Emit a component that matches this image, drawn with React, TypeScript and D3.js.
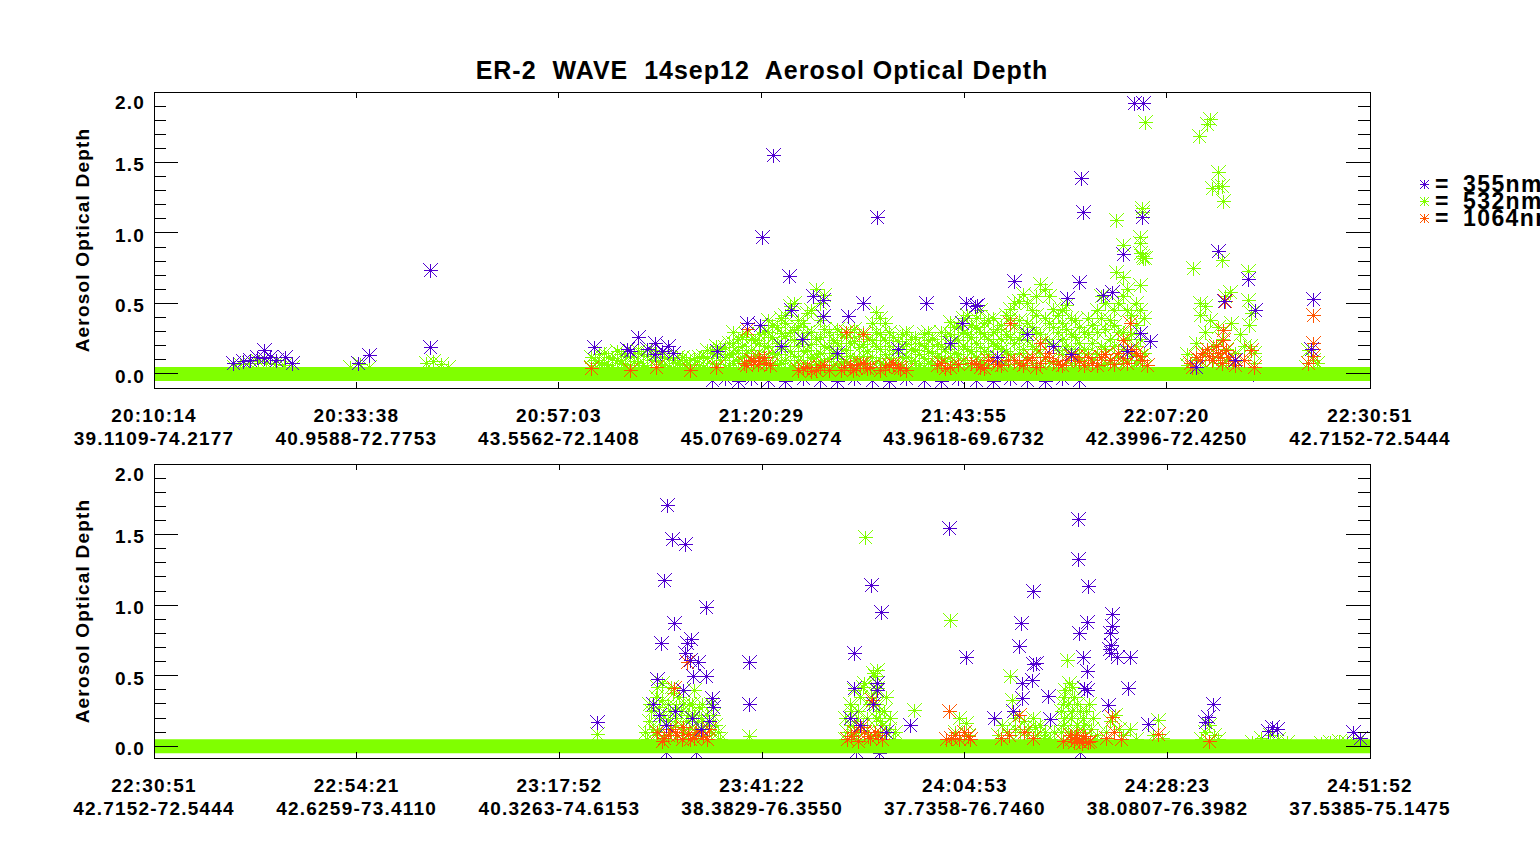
import * as d3 from "d3";

const chartTitle = "ER-2  WAVE  14sep12  Aerosol Optical Depth";
const yTitle = "Aerosol Optical Depth";

const topTimes = ["20:10:14", "20:33:38", "20:57:03", "21:20:29", "21:43:55", "22:07:20", "22:30:51"];
const topCoords = [
  "39.1109-74.2177", "40.9588-72.7753", "43.5562-72.1408", "45.0769-69.0274",
  "43.9618-69.6732", "42.3996-72.4250", "42.7152-72.5444",
];
const bottomTimes = ["22:30:51", "22:54:21", "23:17:52", "23:41:22", "24:04:53", "24:28:23", "24:51:52"];
const bottomCoords = [
  "42.7152-72.5444", "42.6259-73.4110", "40.3263-74.6153", "38.3829-76.3550",
  "37.7358-76.7460", "38.0807-76.3982", "37.5385-75.1475",
];

const wavelengths = ["355nm", "532nm", "1064nm"];
const colors = ["#5000d0", "#80ff00", "#ff5500"];

// each row: [minutes after 20:10:14, one or more AOD readings at that time]
const aod355: number[][] = [
  [9.1, 0.08], [10.3, 0.09], [11.1, 0.1], [11.9, 0.12], [12.7, 0.17, 0.11], [13.4, 0.12], [14.1, 0.1],
  [15.2, 0.12], [16.0, 0.08], [23.6, 0.08], [24.9, 0.135], [31.9, 0.74, 0.19],
  [50.9, 0.19], [54.7, 0.18], [55.0, 0.16], [56.0, 0.26], [57.0, 0.18], [57.9, 0.22, 0.14], [58.7, 0.165],
  [59.4, 0.2], [60.0, 0.15], [64.5, -0.04], [65.1, 0.165], [66, -0.03], [67.5, -0.05], [68.6, 0.36],
  [69, -0.03], [70.1, 0.35], [70.3, 0.97], [71, -0.04], [71.6, 1.55], [72.5, 0.2], [73, -0.05],
  [73.4, 0.695], [73.7, 0.45], [74.9, 0.25], [75, -0.03], [76.2, 0.55], [77, -0.04], [77.4, 0.525, 0.41],
  [79, -0.05, 0.15], [80.3, 0.41], [81, -0.03], [82.0, 0.5], [83, -0.04], [83.6, 1.11], [85, -0.05],
  [86, 0.18], [87, -0.03], [89, -0.04], [89.3, 0.5], [91, -0.05], [92, 0.22], [93, -0.03], [93.4, 0.36],
  [93.9, 0.5], [94.9, 0.48], [95, -0.04], [95.2, 0.49], [97, -0.05], [97.5, 0.12], [99, -0.03],
  [99.5, 0.66], [101, -0.04, 0.28], [103, -0.05], [104, 0.2], [105, -0.03], [105.6, 0.54], [106, 0.14],
  [107, -0.04, 0.65], [107.2, 1.39], [107.4, 1.15], [109.7, 0.56], [110.8, 0.58], [112.1, 0.85],
  [112.5, 0.16], [113.3, 1.92], [114.0, 0.29], [114.3, 1.11], [114.4, 1.92], [115.2, 0.23], [120.5, 0.05],
  [123.0, 0.87], [123.7, 0.52], [125, 0.1], [126.5, 0.67], [127.1, 0.0], [127.3, 0.45], [133.8, 0.18],
  [134.0, 0.53],
  [192.0, 0.17], [198.5, 0.3], [199.0, 0.48], [199.2, 0.22], [199.4, 0.735], [199.8, 1.18], [200.0, 0.15, -0.04],
  [200.1, 1.71], [200.7, 1.47], [200.9, 0.87], [201.0, 0.25], [202.0, 0.4], [202.2, 1.43, 0.66],
  [202.4, 0.73], [202.8, 0.61], [202.9, 0.76], [203.0, 0.2], [203.1, 0.5], [203.5, -0.04], [203.7, 0.6],
  [204.0, 0.12], [204.6, 0.99, 0.5], [205.0, 0.18], [205.3, 0.345], [205.4, 0.28], [209.6, 0.595, 0.3],
  [221.3, 0.2], [221.8, 0.66, 0.41], [222.0, -0.03], [222.5, 0.15], [223.8, 1.14], [224.0, 0.3],
  [224.5, 0.45, 0.4], [224.7, -0.05], [224.9, 0.95], [225.5, 0.1], [228.3, 0.15], [232.8, 1.55],
  [234.8, 0.63], [238.0, 0.2], [240.2, 0.25], [240.9, 0.71], [241.2, 0.87], [241.3, 0.45, 0.34],
  [242.4, 0.47], [242.6, 1.1, 0.58], [242.9, 0.59], [244.3, 0.355], [244.5, 0.19], [247.8, 1.61, 1.325],
  [247.9, 0.805], [248.0, -0.04], [248.4, 0.63], [248.5, 0.41], [248.8, 0.88, 0.53, 0.4], [248.9, 1.135],
  [251.3, 0.29], [251.4, 0.69], [251.5, 0.8], [251.6, 0.72, 0.66], [251.7, 0.94, 0.85], [252.3, 0.63],
  [253.6, 0.41], [253.8, 0.63], [255.9, 0.155], [262.5, 0.17], [262.9, 0.21], [263.4, 0.3],
  [269.8, 0.11], [270.3, 0.135], [270.9, 0.12], [279.7, 0.1], [280.5, 0.06],
];

const aod532: number[][] = [
  [9.2, 0.05], [10.0, 0.07], [11.0, 0.08], [12.0, 0.09], [13.0, 0.08], [14.0, 0.07], [15.0, 0.06],
  [16.0, 0.05], [22.7, 0.05], [23.8, 0.07], [24.9, 0.05], [31.5, 0.08], [32.3, 0.09], [33.2, 0.07],
  [34.0, 0.05],
  [50.5, 0.05, 0.12], [51, 0.04, 0.1], [51.5, 0.08, 0.14], [52, 0.07, 0.15], [52.5, 0.06, 0.12],
  [53, 0.05, 0.11], [53.5, 0.1, 0.16], [54, 0.08, 0.14], [54.5, 0.07, 0.13], [55, 0.06, 0.12],
  [55.5, 0.09, 0.15], [56, 0.08, 0.16], [56.5, 0.06, 0.14], [57, 0.05, 0.13], [57.5, 0.1, 0.17],
  [58, 0.09, 0.15], [58.5, 0.07, 0.12], [59, 0.06, 0.12], [59.5, 0.05, 0.11], [60, 0.04, 0.1],
  [60.5, 0.08, 0.12], [61, 0.07, 0.12], [61.5, 0.06, 0.1], [62, 0.05, 0.1], [62.5, 0.07, 0.11],
  [63, 0.06, 0.12], [63.5, 0.05, 0.13], [64, 0.04, 0.11, 0.17], [64.5, 0.08, 0.15], [65, 0.07, 0.14, 0.2],
  [65.5, 0.1, 0.18], [66, 0.05, 0.12, 0.19], [66.5, 0.06, 0.14, 0.22], [67, 0.08, 0.15, 0.22, 0.3],
  [67.5, 0.09, 0.17, 0.25], [68, 0.05, 0.12, 0.2, 0.26], [68.5, 0.07, 0.15, 0.28], [69, 0.09, 0.17, 0.25],
  [69.5, 0.05, 0.13, 0.24], [70, 0.06, 0.14, 0.22, 0.28], [70.5, 0.1, 0.2, 0.3],
  [71, 0.04, 0.12, 0.2, 0.3, 0.38], [71.5, 0.06, 0.15, 0.26, 0.35], [72, 0.07, 0.14, 0.22, 0.33],
  [72.5, 0.08, 0.18, 0.29, 0.4], [73, 0.1, 0.2, 0.27, 0.36, 0.42], [73.5, 0.05, 0.16, 0.3, 0.48],
  [74, 0.06, 0.13, 0.24, 0.31, 0.5], [74.5, 0.1, 0.2, 0.33, 0.38], [75, 0.08, 0.16, 0.25, 0.36],
  [75.5, 0.07, 0.17, 0.3, 0.43], [76, 0.05, 0.12, 0.21, 0.3, 0.45], [76.5, 0.06, 0.14, 0.25, 0.6],
  [77, 0.07, 0.15, 0.26, 0.38, 0.5], [77.5, 0.09, 0.2, 0.32, 0.56], [78, 0.04, 0.11, 0.2, 0.3],
  [78.5, 0.06, 0.15, 0.24], [79, 0.07, 0.13, 0.22, 0.32], [79.5, 0.08, 0.18, 0.28], [80, 0.09, 0.17, 0.26],
  [80.5, 0.05, 0.13, 0.22, 0.3], [81, 0.04, 0.11, 0.23, 0.32], [81.5, 0.1, 0.19, 0.27],
  [82, 0.06, 0.13, 0.21, 0.3], [82.5, 0.07, 0.16, 0.25], [83, 0.05, 0.12, 0.24, 0.36],
  [83.5, 0.09, 0.2, 0.3, 0.44], [84, 0.08, 0.18, 0.28, 0.4], [84.5, 0.06, 0.14, 0.24, 0.36],
  [85, 0.04, 0.11, 0.2, 0.3], [85.5, 0.08, 0.17, 0.26], [86, 0.07, 0.15, 0.23], [86.5, 0.05, 0.12, 0.2, 0.28],
  [87, 0.04, 0.12, 0.21, 0.3], [87.5, 0.09, 0.18, 0.25], [88, 0.08, 0.17, 0.26], [88.5, 0.06, 0.14, 0.22],
  [89, 0.05, 0.11, 0.2, 0.28], [89.5, 0.08, 0.16, 0.24, 0.3], [90, 0.07, 0.15, 0.25], [90.5, 0.05, 0.13, 0.21],
  [91, 0.04, 0.11, 0.2, 0.3], [91.5, 0.09, 0.18, 0.27], [92, 0.06, 0.12, 0.2, 0.28, 0.37],
  [92.5, 0.07, 0.15, 0.24, 0.33], [93, 0.05, 0.14, 0.24, 0.34], [93.5, 0.1, 0.2, 0.3, 0.4],
  [94, 0.08, 0.18, 0.28, 0.42], [94.5, 0.06, 0.16, 0.26, 0.35], [95, 0.04, 0.12, 0.22, 0.33, 0.4],
  [95.5, 0.08, 0.19, 0.3, 0.45], [96, 0.07, 0.16, 0.28, 0.36], [96.5, 0.05, 0.14, 0.25, 0.38],
  [97, 0.05, 0.12, 0.22, 0.3, 0.4], [97.5, 0.09, 0.2, 0.32], [98, 0.08, 0.18, 0.25, 0.35],
  [98.5, 0.07, 0.16, 0.28, 0.42], [99, 0.05, 0.14, 0.26, 0.4, 0.46], [99.5, 0.1, 0.22, 0.35, 0.5],
  [100, 0.07, 0.15, 0.25, 0.38, 0.52], [100.5, 0.06, 0.18, 0.3, 0.57], [101, 0.04, 0.12, 0.24, 0.36, 0.5],
  [101.5, 0.08, 0.2, 0.33, 0.45], [102, 0.06, 0.18, 0.3, 0.42, 0.55], [102.5, 0.05, 0.15, 0.28, 0.64],
  [103, 0.04, 0.12, 0.25, 0.4, 0.6], [103.5, 0.09, 0.22, 0.36, 0.55], [104, 0.08, 0.2, 0.33, 0.46],
  [104.5, 0.07, 0.17, 0.3, 0.42], [105, 0.05, 0.14, 0.25, 0.36, 0.45], [105.5, 0.1, 0.2, 0.32, 0.49],
  [106, 0.08, 0.18, 0.28, 0.4], [106.5, 0.06, 0.15, 0.26, 0.38], [107, 0.05, 0.12, 0.22, 0.33],
  [107.5, 0.08, 0.18, 0.3], [108, 0.06, 0.15, 0.28, 0.4], [108.5, 0.1, 0.22, 0.35], [109, 0.04, 0.14, 0.3, 0.45],
  [109.5, 0.06, 0.2, 0.4, 0.55], [110, 0.07, 0.18, 0.32, 0.5], [110.5, 0.08, 0.25, 0.38],
  [111, 0.05, 0.2, 0.35, 0.45], [111.2, 1.09], [111.3, 0.72], [111.5, 0.12, 0.3, 0.5], [112.0, 0.69],
  [112.1, 0.915], [112, 0.08, 0.18, 0.3, 0.55], [112.5, 0.1, 0.25, 0.45, 0.6], [113, 0.05, 0.15, 0.28, 0.42],
  [113.5, 0.08, 0.2, 0.35, 0.5], [114.0, 0.97, 0.93, 0.86, 0.63, 0.1, 0.25, 0.45], [114.2, 1.15, 0.84],
  [114.3, 1.18], [114.4, 0.82], [114.5, 0.05, 0.15, 0.4], [114.6, 1.785, 0.82],
  [119.5, 0.06, 0.14], [120.1, 0.75], [120.5, 0.1, 0.22], [120.8, 1.69], [121.0, 0.42, 0.5],
  [121.5, 0.05, 0.15, 0.3, 0.48], [121.8, 1.77], [122.1, 1.81, 0.38], [122.3, 1.32], [122.5, 0.1, 0.2],
  [123.0, 1.43, 1.33, 0.33, 0.12], [123.5, 1.33, 0.81, 0.06, 0.25], [123.6, 1.23], [123.8, 0.55],
  [124.0, 0.1, 0.18], [124.4, 0.58], [124.6, 0.36], [125.0, 0.05, 0.15], [125.6, 0.28], [126.0, 0.1, 0.2],
  [126.5, 0.73, 0.525], [126.6, 0.35], [126.7, 0.2], [126.8, 0.43], [127.2, 0.08, 0.15],
  [133.2, 0.05], [133.5, 0.17], [134.0, 0.1], [134.5, 0.08],
  [192.0, 0.09], [197.5, 0.1], [197.8, 0.05], [198.0, 0.18, 0.3], [198.2, 0.25], [198.5, 0.12],
  [198.8, 0.08, 0.35], [199.0, 0.42], [199.2, 0.28, 0.12], [199.3, 0.2], [199.5, 0.33, 0.45],
  [199.7, 0.05, 0.22], [200.0, 0.08], [200.2, 0.18, 0.3], [200.5, 0.25], [200.6, 0.1, 0.42], [200.8, 0.38],
  [201.0, 0.15], [201.1, 0.28, 0.2], [201.2, 0.05], [201.5, 0.35], [201.7, 0.12, 0.25], [202.0, 0.1, 0.3],
  [202.3, 0.05, 0.18], [202.5, 0.22], [202.7, 0.3, 0.12], [203.0, 0.3, 0.05], [203.2, 0.22, 0.4],
  [203.5, 0.12], [203.7, 0.08, 0.18], [203.8, 0.28], [204.0, 0.2], [204.2, 0.3, 0.12], [204.5, 0.08],
  [204.8, 0.22, 0.05], [205.0, 0.15], [205.2, 0.1, 0.3], [205.5, 0.22], [205.7, 0.15], [206.0, 0.1],
  [206.2, 0.05], [209.6, 0.07],
  [220.8, 0.05, 0.2], [221.0, 0.1], [221.3, 0.15, 0.3], [221.5, 0.25], [221.8, 0.08, 0.4], [222.0, 0.18, 0.05],
  [222.3, 0.25, 0.1], [222.5, 0.35], [222.8, 0.15, 0.42], [223.0, 0.45], [223.1, 1.48], [223.3, 0.2, 0.1],
  [223.5, 0.3], [223.8, 0.35, 0.05], [224.0, 0.52], [224.2, 0.5], [224.3, 0.2, 0.3], [224.4, 0.4],
  [224.5, 0.54, 0.41, 0.05], [224.7, 0.25], [224.8, 0.1, 0.18], [225.0, 0.15], [225.3, 0.25, 0.05],
  [225.5, 0.35], [225.8, 0.12], [226.0, 0.2], [226.3, 0.05], [226.5, 0.1], [228.8, 0.255], [232.9, 0.895],
  [233.5, 0.1], [234.0, 0.2], [234.8, 0.165], [235.0, 0.08],
  [238.5, 0.08], [239.0, 0.15], [239.5, 0.1], [239.9, 0.5], [240.1, 0.33], [240.5, 0.2, 0.12], [241.0, 0.1],
  [241.5, 0.18], [241.8, 0.08], [242.0, 0.12], [242.5, 0.2], [242.8, 0.14], [243.0, 0.08], [243.4, 0.15],
  [243.8, 0.06], [244.0, 0.1], [244.5, 0.05], [245.0, 0.1],
  [245.8, 0.1, 0.25], [246.0, 0.3, 0.15], [246.2, 0.2, 0.35], [246.3, 0.4], [246.5, 0.61], [246.6, 0.1, 0.3],
  [246.7, 0.45], [247.0, 0.2], [247.1, 0.25, 0.42], [247.3, 0.35], [247.5, 0.1], [247.6, 0.15, 0.3],
  [248.0, 0.25], [248.3, 0.1, 0.2], [248.5, 0.15], [248.7, 0.05, 0.25], [249.0, 0.3], [249.3, 0.12],
  [249.5, 0.2], [249.8, 0.05], [250.0, 0.08],
  [251.0, 0.1], [251.5, 0.18], [252.1, 0.22], [252.5, 0.12], [253.0, 0.08], [253.8, 0.125], [254.5, 0.05],
  [256.5, 0.08], [257.1, 0.185], [257.5, 0.06],
  [262.0, 0.05], [262.5, 0.1], [263.0, 0.15], [263.5, 0.08], [264.0, 0.05],
  [268.0, 0.03], [269.0, 0.06], [270.0, 0.08], [271.0, 0.05], [272.0, 0.03],
  [276, 0.02], [277, 0.03], [278, 0.04], [279, 0.03], [280, 0.02],
];

const aod1064: number[][] = [
  [50.5, 0.04], [55, 0.03], [58, 0.05], [62, 0.03], [65, 0.05],
  [68.2, 0.08], [68.5, 0.06], [68.6, 0.32], [69.0, 0.1], [69.3, 0.09], [69.8, 0.07], [70.0, 0.11],
  [70.5, 0.12], [70.8, 0.08], [71.2, 0.06],
  [74.5, 0.03], [75, 0.04], [75.5, 0.05], [76, 0.02], [76.5, 0.03], [77, 0.05], [77.5, 0.06], [78, 0.03],
  [79.5, 0.03], [79.8, 0.05], [80.0, 0.3], [80.5, 0.06], [80.8, 0.03], [81.2, 0.04], [81.6, 0.07],
  [82.0, 0.08, 0.28], [82.4, 0.04], [82.8, 0.05], [84, 0.03], [84.5, 0.05], [85, 0.06], [85.5, 0.07],
  [86, 0.05], [86.3, 0.04], [87, 0.03], [90.5, 0.06], [91, 0.08], [91.5, 0.04], [92, 0.05], [93, 0.07],
  [94.5, 0.08], [95, 0.07], [95.5, 0.05], [96, 0.04], [96.5, 0.1], [97, 0.09], [97.5, 0.07], [98, 0.06],
  [98.8, 0.1], [99.0, 0.36], [99.5, 0.1], [100, 0.08], [100.5, 0.06], [101, 0.1], [101.5, 0.12],
  [102, 0.05], [102.4, 0.22], [102.5, 0.08], [103, 0.12], [103.5, 0.15], [104, 0.09], [104.5, 0.07],
  [105, 0.06], [105.5, 0.1], [106, 0.13], [106.5, 0.12], [107, 0.09], [107.5, 0.06], [108, 0.12],
  [108.5, 0.08], [109, 0.06], [109.5, 0.12], [110, 0.14], [110.5, 0.1], [111, 0.07], [111.5, 0.15],
  [112.0, 0.24, 0.11], [112.5, 0.08], [112.9, 0.36], [113, 0.18], [113.5, 0.15], [114, 0.13], [114.2, 0.1],
  [114.8, 0.06],
  [119.8, 0.08], [120, 0.05], [120.5, 0.12], [121, 0.1], [121.2, 0.15], [121.8, 0.18], [122, 0.13],
  [122.4, 0.1], [122.8, 0.2], [123.0, 0.15], [123.3, 0.12], [123.5, 0.08], [123.6, 0.31, 0.24],
  [123.8, 0.52], [124, 0.17], [124.2, 0.12], [124.8, 0.09], [125.0, 0.06], [126.0, 0.1], [126.8, 0.17],
  [127.2, 0.05], [133.5, 0.08], [134.0, 0.42, 0.22, 0.13],
  [199.0, 0.1], [199.5, 0.04], [199.8, 0.06], [200.2, 0.08], [200.5, 0.12], [200.9, 0.41], [201.0, 0.1],
  [201.3, 0.08], [201.8, 0.05], [202.0, 0.14], [202.4, 0.6], [202.5, 0.09], [202.8, 0.05], [203.2, 0.06],
  [203.5, 0.1], [204.0, 0.1], [204.3, 0.07], [204.8, 0.05], [205.0, 0.12],
  [221.0, 0.05], [221.5, 0.07], [221.8, 0.1], [222.2, 0.04], [222.6, 0.14], [223.0, 0.1], [223.4, 0.07],
  [223.7, 0.06], [223.9, 0.33], [224.2, 0.1], [224.6, 0.08], [225.0, 0.05],
  [232.5, 0.05], [232.8, 0.25], [233, 0.06], [233.5, 0.08], [234, 0.05], [234.5, 0.1], [235, 0.07],
  [235.3, 0.05],
  [238.8, 0.06], [239.8, 0.08], [240.9, 0.22], [241.5, 0.1], [242.5, 0.06],
  [246.0, 0.04], [246.8, 0.08], [247.0, 0.05], [247.3, 0.03], [247.5, 0.08], [247.7, 0.06], [247.9, 0.04],
  [248.2, 0.02], [248.4, 0.06], [248.6, 0.07], [248.9, 0.03], [249.2, 0.04],
  [251.0, 0.06], [251.7, 0.21], [252.0, 0.1], [252.8, 0.05], [257.1, 0.085], [263.0, 0.04],
];

// stretches where most readings sit on the zero line
const nearZeroSpans: [string, string][] = [
  ["20:10:14", "22:30:51"],
  ["22:30:51", "24:51:52"],
];

const startSeconds = 20 * 3600 + 10 * 60 + 14;
function toMinutes(hms: string) {
  const [h, m, s] = hms.split(":").map(Number);
  return (h * 3600 + m * 60 + s - startSeconds) / 60;
}

const font = "'Liberation Sans', Arial, Helvetica, sans-serif";
const starPath = (r: number) => `M${-r},0H${r}M0,${-r}V${r}M${-r},${-r}L${r},${r}M${-r},${r}L${r},${-r}`;
const flatten = (rows: number[][]) => rows.flatMap(([t, ...vals]) => vals.map((v) => ({ t, v })));
const pts355 = flatten(aod355);

// drawing order: low 355 readings, zero band, 532, 1064, remaining 355
const layers = [
  { pts: pts355.filter((p) => p.v < 0.03), color: colors[0] },
  { band: true, pts: [], color: colors[1] },
  { pts: flatten(aod532), color: colors[1] },
  { pts: flatten(aod1064), color: colors[2] },
  { pts: pts355.filter((p) => p.v >= 0.03), color: colors[0] },
];

interface PanelProps {
  id: string;
  times: string[];
  coords: string[];
  top: number;
  bottom: number;
  yMin: number;
}

const left = 154;
const right = 1370;

function Panel({ id, times, coords, top, bottom, yMin }: PanelProps) {
  const t0 = toMinutes(times[0]);
  const t1 = toMinutes(times[times.length - 1]);
  const x = d3.scaleLinear().domain([t0, t1]).range([left, right]);
  const y = d3.scaleLinear().domain([yMin, 2.0]).range([bottom, top]);
  const minor = d3.range(0, 21).map((i) => i / 10);
  const major = d3.range(0, 5).map((i) => i / 2);
  const fmt = d3.format(".1f");
  const spans = nearZeroSpans
    .map(([a, b]) => [toMinutes(a), toMinutes(b)])
    .filter(([a, b]) => b > t0 && a < t1);

  return (
    <g>
      <defs>
        <clipPath id={id}>
          <rect x={left} y={top} width={right - left} height={bottom - top} />
        </clipPath>
      </defs>
      <g clipPath={`url(#${id})`}>
        {layers.map((layer, li) =>
          layer.band ? (
            <g key={li}>
              {spans.map(([a, b], i) => (
                <line key={i} x1={x(a)} x2={x(b)} y1={y(0)} y2={y(0)} stroke={layer.color} strokeWidth={14} />
              ))}
            </g>
          ) : (
            <g key={li} stroke={layer.color} strokeWidth={1} fill="none" shapeRendering="crispEdges">
              {layer.pts
                .filter((p) => p.t >= t0 - 1 && p.t <= t1 + 1)
                .map((p, i) => (
                  <path
                    key={i}
                    d={starPath(7)}
                    transform={`translate(${Math.round(x(p.t)) + 0.5},${Math.round(y(p.v)) + 0.5})`}
                  />
                ))}
            </g>
          )
        )}
      </g>
      <rect x={left} y={top} width={right - left} height={bottom - top} fill="none" stroke="#000" shapeRendering="crispEdges" />
      <g stroke="#000" shapeRendering="crispEdges">
        {minor.map((v) => {
          const len = major.some((m) => Math.abs(m - v) < 1e-6) ? 24 : 12;
          return (
            <g key={v}>
              <line x1={left} x2={left + len} y1={y(v)} y2={y(v)} />
              <line x1={right - len} x2={right} y1={y(v)} y2={y(v)} />
            </g>
          );
        })}
        {times.map((tm) => (
          <g key={tm}>
            <line x1={x(toMinutes(tm))} x2={x(toMinutes(tm))} y1={bottom} y2={bottom - 6} />
            <line x1={x(toMinutes(tm))} x2={x(toMinutes(tm))} y1={top} y2={top + 6} />
          </g>
        ))}
      </g>
      <g fontFamily={font} fontWeight="bold" fontSize={19} letterSpacing={1.2} fill="#000">
        {major.map((v) => (
          <text key={v} x={145} y={Math.max(y(v) + 8.8, top + 16.5)} textAnchor="end">
            {fmt(v)}
          </text>
        ))}
        {times.map((tm, i) => (
          <g key={tm}>
            <text x={x(toMinutes(tm))} y={bottom + 34} textAnchor="middle">{tm}</text>
            <text x={x(toMinutes(tm))} y={bottom + 57} textAnchor="middle">{coords[i]}</text>
          </g>
        ))}
        <text transform={`translate(89,${(top + bottom) / 2}) rotate(-90)`} textAnchor="middle">
          {yTitle}
        </text>
      </g>
    </g>
  );
}

export default function App() {
  return (
    <div style={{ position: "absolute", left: 0, top: 0, width: 1540, height: 845, background: "#fff" }}>
      <svg width={1540} height={845} viewBox="0 0 1540 845" style={{ display: "block" }}>
        <rect width={1540} height={845} fill="#fff" />
        <text
          x={762}
          y={79}
          textAnchor="middle"
          fontFamily={font}
          fontWeight="bold"
          fontSize={25}
          letterSpacing={1}
          style={{ whiteSpace: "pre" }}
        >
          {chartTitle}
        </text>
        <Panel id="clipTop" times={topTimes} coords={topCoords} top={92} bottom={388} yMin={-0.1} />
        <Panel id="clipBottom" times={bottomTimes} coords={bottomCoords} top={464} bottom={758} yMin={-0.083} />
        <g fontFamily={font} fontWeight="bold" fontSize={23} letterSpacing={1.4}>
          {wavelengths.map((w, i) => (
            <g key={w}>
              <path
                d={starPath(4.5)}
                transform={`translate(1424.5,${184.5 + i * 17})`}
                stroke={colors[i]}
                fill="none"
                shapeRendering="crispEdges"
              />
              <text y={192 + i * 17}>
                <tspan x={1435}>=</tspan>
                <tspan x={1463}>{w}</tspan>
              </text>
            </g>
          ))}
        </g>
      </svg>
    </div>
  );
}
